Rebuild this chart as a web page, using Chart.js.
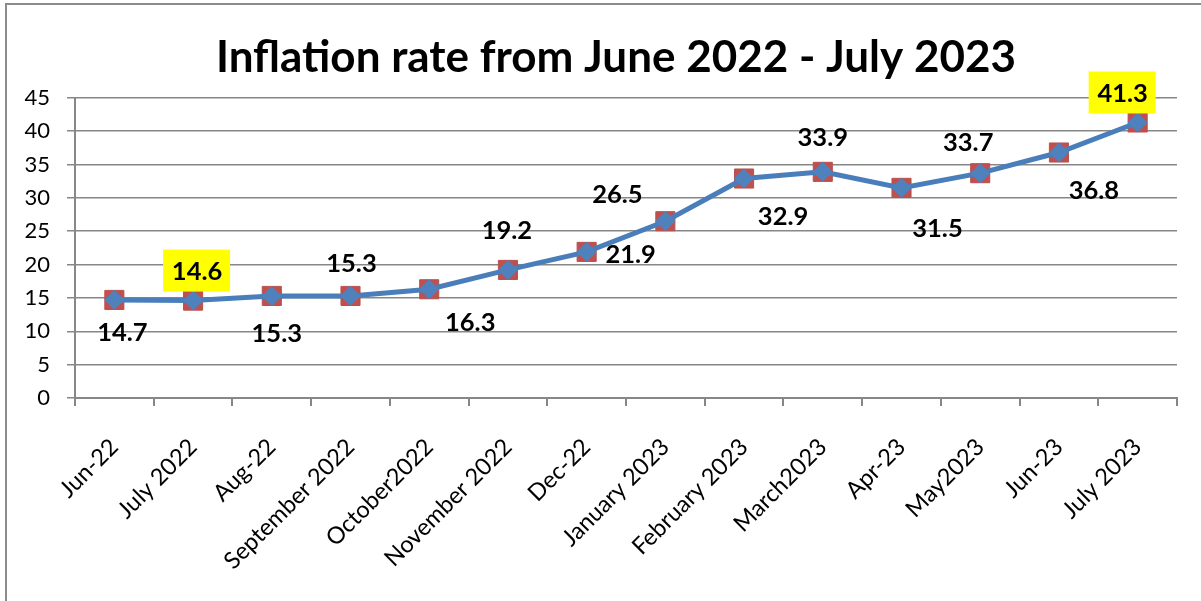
<!DOCTYPE html>
<html>
<head>
<meta charset="utf-8">
<title>Inflation rate</title>
<script src="https://cdn.jsdelivr.net/npm/chart.js@4.4.0/dist/chart.umd.min.js"></script>
<style>
  html, body { margin: 0; padding: 0; background: #fff; }
  #wrap { position: relative; width: 1201px; height: 601px; overflow: hidden; }
  #frame { position: absolute; left: 5px; top: 3px; right: -4px; bottom: -4px;
           border-left: 2px solid #8c8c8c; border-top: 2px solid #8c8c8c; }
  canvas { position: absolute; left: 0; top: 0; }
</style>
</head>
<body>
<div id="wrap">
  <div id="frame"></div>
  <canvas id="chart" width="1201" height="601"></canvas>
</div>
<script>
const months = ['Jun-22', 'July 2022', 'Aug-22', 'September 2022', 'October2022', 'November 2022',
  'Dec-22', 'January 2023', 'February 2023', 'March2023', 'Apr-23', 'May2023', 'Jun-23', 'July 2023'];
const inflation = [14.7, 14.6, 15.3, 15.3, 16.3, 19.2, 21.9, 26.5, 32.9, 33.9, 31.5, 33.7, 36.8, 41.3];
const yMin = 0, yMax = 45, yStep = 5;

// which value labels get the yellow highlight
const highlighted = [1, 13];
// where each value label sits relative to its point (dx, dy)
const labelShift = [[8, 32], [4, -30], [5, 37], [1, -33], [41, 33], [-1, -40], [44, 2],
  [-48, -27], [39, 37], [0, -35], [36, 40], [-12, -31], [35, 37], [-15, -30]];

const gridGrey = '#878787';

const valueLabels = {
  id: 'valueLabels',
  afterDatasetsDraw(chart) {
    const ctx = chart.ctx;
    const pts = chart.getDatasetMeta(0).data;
    ctx.save();
    ctx.font = 'bold 25.5px Lato';
    ctx.textAlign = 'center';
    ctx.textBaseline = 'middle';
    pts.forEach((pt, i) => {
      const x = pt.x + labelShift[i][0];
      const y = pt.y + labelShift[i][1];
      if (highlighted.includes(i)) {
        ctx.fillStyle = '#ffff00';
        ctx.fillRect(x - 34, y - 21, 67, 42);
      }
      ctx.fillStyle = '#000';
      ctx.fillText(inflation[i].toFixed(1), x, y + 1);
    });
    ctx.restore();
  }
};

// the title in the reference sits a little left of the plot centre
const nudgeTitle = {
  id: 'nudgeTitle',
  afterLayout(chart) {
    const t = chart.titleBlock;
    if (t) { t.left -= 10; t.right -= 10; }
  }
};

new Chart(document.getElementById('chart'), {
  type: 'line',
  data: {
    labels: months,
    datasets: [
      {
        data: inflation,
        borderColor: '#4a7ebb',
        borderWidth: 5,
        tension: 0,
        pointStyle: 'rectRot',
        pointRadius: 10,
        pointBackgroundColor: '#4f81bd',
        pointBorderColor: '#4f81bd',
        pointBorderWidth: 0
      },
      {
        data: inflation,
        showLine: false,
        pointStyle: 'rect',
        pointRadius: 13.5,
        pointBackgroundColor: '#c0504d',
        pointBorderColor: '#b8514f',
        pointBorderWidth: 1
      }
    ]
  },
  options: {
    responsive: false,
    animation: false,
    events: [],
    layout: { padding: { left: 8, right: 24, top: 0, bottom: 0 } },
    plugins: {
      legend: { display: false },
      tooltip: { enabled: false },
      title: {
        display: true,
        fullSize: false,
        text: 'Inflation rate from June 2022 - July 2023',
        color: '#000',
        font: { family: 'Lato', size: 44, weight: 'bold', lineHeight: 1.2 },
        padding: { top: 31, bottom: 14 }
      }
    },
    scales: {
      x: {
        offset: true,
        grid: { offset: true, drawOnChartArea: false, drawTicks: true, tickLength: 8, color: gridGrey, lineWidth: 2 },
        border: { color: gridGrey, width: 2 },
        ticks: { color: '#000', font: { family: 'Lato', size: 23.5 }, minRotation: 45, maxRotation: 45, autoSkip: false, padding: 27 },
        afterFit(scale) { scale.height = 203; }
      },
      y: {
        min: yMin,
        max: yMax,
        grid: { color: gridGrey, lineWidth: 1.5, tickLength: 8 },
        border: { color: gridGrey, width: 2 },
        ticks: { stepSize: yStep, color: '#000', font: { family: 'Lato', size: 22 }, padding: 17 },
        afterFit(scale) { scale.width = 67; }
      }
    }
  },
  plugins: [valueLabels, nudgeTitle]
});
</script>
</body>
</html>
